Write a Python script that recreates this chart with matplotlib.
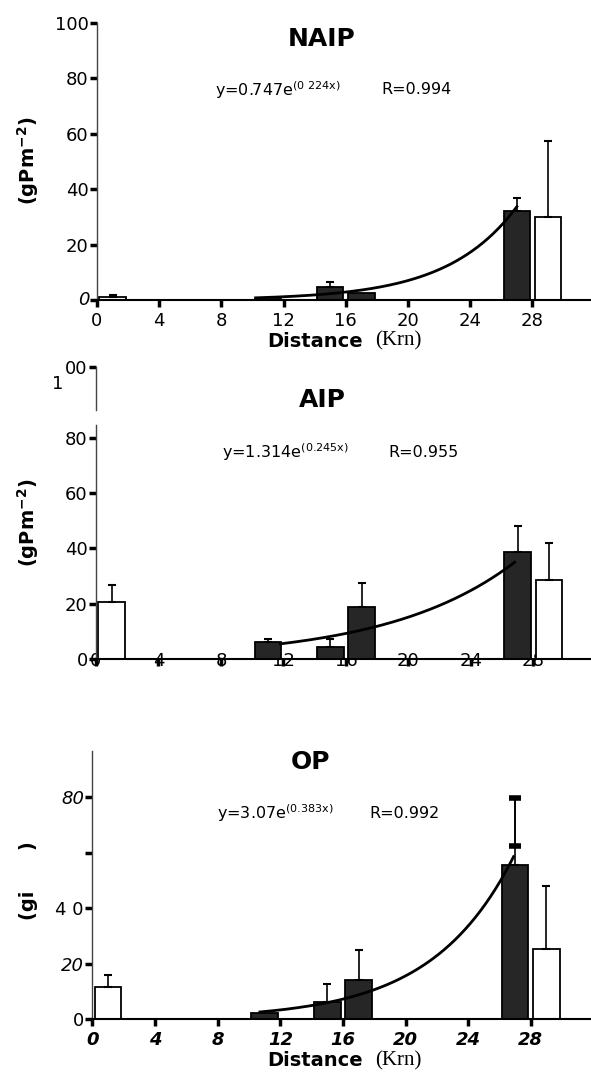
import numpy as np
import matplotlib.pyplot as plt

W, H = 591, 1073
plt.rcParams['font.family'] = ['DejaVu Sans']
plt.rcParams['mathtext.default'] = 'regular'

# bar positions (km) and which ones are open (white)
distance = [1, 11, 15, 17, 27, 29]
is_open = [True, False, False, False, False, True]
xticks = [0, 4, 8, 12, 16, 20, 24, 28]

naip_mean = [1.2, 0.4, 4.6, 2.4, 32.2, 30.1]
naip_err = [0.5, 0, 2.0, 0, 4.5, 27.4]
aip_mean = [20.6, 6.4, 4.6, 18.8, 38.9, 28.7]
aip_err = [6.3, 0.8, 2.6, 8.9, 9.4, 13.2]
op_mean = [11.8, 2.4, 6.4, 14.2, 55.5, 25.3]
op_err = [4.0, 0, 6.4, 10.8, 24.4, 22.9]
op_extra_cap = 62.4

# fitted curves: a, b, x offset, x scale, start, end
naip_fit = (0.747, 0.224, 10.0, 1.0, 10.2, 27.0)
aip_fit = (1.314, 0.245, 0.0, 2.0, 11.8, 26.8)
op_fit = (3.07, 0.383, 11.5, 2.0, 10.7, 26.9)

fig = plt.figure(figsize=(W / 100, H / 100), dpi=100)


def px(x):
    return x / W


def py(y):
    return 1 - y / H


def panel(left, y0, ppk, ppu, ymax):
    ax = fig.add_axes([px(left), py(y0), (W - left) / W, ymax * ppu / H])
    ax.set_xlim(0, (W - left) / ppk)
    ax.set_ylim(0, ymax)
    for s in ['top', 'right']:
        ax.spines[s].set_visible(False)
    ax.spines['left'].set_linewidth(1.0)
    ax.spines['left'].set_color('#444444')
    ax.spines['bottom'].set_linewidth(1.5)
    ax.tick_params(direction='out', length=5, width=2.5, labelsize=13)
    ax.tick_params(axis='y', pad=1)
    ax.set_xticks(xticks)
    return ax


def draw(ax, mean, err, fit):
    w = 1.7
    for x, m, e, o in zip(distance, mean, err, is_open):
        ax.bar(x, m, width=w, color='white' if o else '#262626',
               edgecolor='black', linewidth=1.3, zorder=2)
        if e > 0:
            ax.errorbar(x, m, yerr=[[0], [e]], fmt='none', ecolor='black',
                        elinewidth=1.2, capsize=3, capthick=1.5, zorder=3)
    a, b, x0, s, xs, xe = fit
    xx = np.linspace(xs, xe, 200)
    ax.plot(xx, a * np.exp(b * (xx - x0) / s), color='black', lw=2, zorder=4)


# NAIP
ax1 = panel(97, 300, 15.55, 2.773, 100)
ax1.set_yticks([0, 20, 40, 60, 80, 100])
ax1.set_yticklabels(['', '20', '40', '60', '80', '100'])
ax1.text(-0.45, 0, '0', ha='right', va='center', fontsize=13, style='italic')
draw(ax1, naip_mean, naip_err, naip_fit)

# AIP (scan breaks the top of its y axis)
ax2 = panel(96, 659.3, 15.62, 2.77, 105.5)
ax2.set_yticks([0, 20, 40, 60, 80, 105.5])
ax2.set_yticklabels(['0', '20', '40', '60', '80', '00'])
ax2.spines['left'].set_bounds(0, 84.6)
ax2.plot([0, 0], [90, 105.5], color='#444444', lw=1.0, clip_on=False)
ax2.tick_params(axis='x', pad=-10)
for lbl in ax2.get_xticklabels():
    lbl.set_zorder(6)
draw(ax2, aip_mean, aip_err, aip_fit)
fig.text(px(58), py(384), '1', fontsize=13, ha='center', va='center')

# OP
ax3 = panel(92.3, 1019.3, 15.66, 2.775, 96.8)
ax3.set_yticks([0, 20, 40, 60, 80])
ax3.set_yticklabels(['0', '20', '4 0', '', '80'])
for lbl in ax3.get_yticklabels()[1::3]:
    lbl.set_style('italic')
for lbl in ax3.get_xticklabels():
    lbl.set_style('italic')
    lbl.set_fontweight('bold')
draw(ax3, op_mean, op_err, op_fit)
ax3.errorbar(distance[4], op_extra_cap,
             yerr=[[0], [op_mean[4] + op_err[4] - op_extra_cap]],
             fmt='none', ecolor='black', elinewidth=1.2, capsize=4.5,
             capthick=4, zorder=5)

# titles and equations
fig.text(px(322), py(39), 'NAIP', fontsize=18, fontweight='bold', ha='center', va='center')
fig.text(px(322), py(400), 'AIP', fontsize=18, fontweight='bold', ha='center', va='center')
fig.text(px(311), py(762), 'OP', fontsize=18, fontweight='bold', ha='center', va='center')

eq_kw = dict(fontsize=11.5, va='center', ha='left')
fig.text(px(215), py(90), 'y=0.747e$^{(0\\ 224x)}$', **eq_kw)
fig.text(px(381), py(90), 'R=0.994', **eq_kw)
fig.text(px(222), py(452), 'y=1.314e$^{(0.245x)}$', **eq_kw)
fig.text(px(388), py(452), 'R=0.955', **eq_kw)
fig.text(px(217), py(813), 'y=3.07e$^{(0.383x)}$', **eq_kw)
fig.text(px(369), py(813), 'R=0.992', **eq_kw)

# y labels
lab_kw = dict(fontsize=14, fontweight='bold', rotation=90, ha='center', va='center')
fig.text(px(28), py(161), '(gPm$^{-2}$)', **lab_kw)
fig.text(px(28), py(523), '(gPm$^{-2}$)', **lab_kw)
fig.text(px(28), py(881), '(gi      )', **lab_kw)

# x labels
for yy in (341, 1061):
    fig.text(px(315), py(yy), 'Distance', fontsize=14, fontweight='bold',
             ha='center', va='center')
    fig.text(px(398), py(yy), '(Krn)', fontsize=15, family='Liberation Serif',
             ha='center', va='center')

fig.savefig('out.png', dpi=100)
